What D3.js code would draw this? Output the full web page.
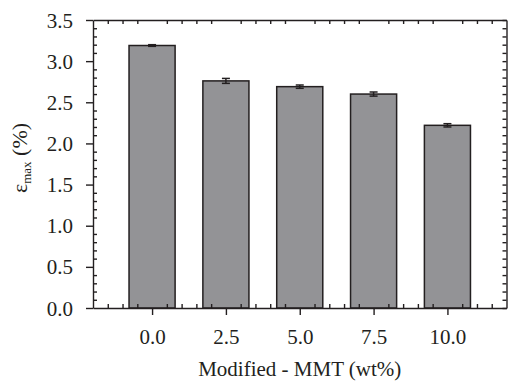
<!DOCTYPE html>
<html>
<head>
<meta charset="utf-8">
<script src="https://cdn.jsdelivr.net/npm/d3@7"></script>
<style>
  body { margin: 0; background: #fff; }
  .axis path, .axis line { stroke: #231f20; stroke-width: 1.4px; }
</style>
</head>
<body>
<div id="chart"></div>
<script>
// values
const loadings = [0.0, 2.5, 5.0, 7.5, 10.0];
const strainMax = [3.19, 2.76, 2.69, 2.60, 2.22];
const strainErr = [0.01, 0.03, 0.02, 0.025, 0.02];
const yTickValues = [0.0, 0.5, 1.0, 1.5, 2.0, 2.5, 3.0, 3.5];
const xLabel = "Modified - MMT (wt%)";

const serif = "'Liberation Serif', 'DejaVu Serif', serif";
const outerWidth = 508, outerHeight = 382;
const margin = { left: 93, top: 20, right: 1.5, bottom: 74 };
const innerWidth = outerWidth - margin.left - margin.right;
const innerHeight = outerHeight - margin.top - margin.bottom;
const barWidth = 1.56; // in wt% units

const data = loadings.map((x, i) => ({ x: x, y: strainMax[i], err: strainErr[i] }));

const svg = d3.select("#chart").append("svg")
  .attr("width", outerWidth)
  .attr("height", outerHeight);

const g = svg.append("g")
  .attr("transform", "translate(" + margin.left + "," + margin.top + ")");

const scaleX = d3.scaleLinear().domain([-2, 12]).range([0, innerWidth]);
const scaleY = d3.scaleLinear().domain([0, 3.5]).range([innerHeight, 0]);

// minor tick positions (every 0.1 on y, every 0.5 on x)
const yMinor = d3.range(1, 35).map(d => d / 10).filter(d => Math.round(d * 10) % 5 !== 0);
const yAll = d3.range(0, 36).map(d => d / 10);
const xMinor = d3.range(-3, 24).map(d => d / 2).filter(d => loadings.indexOf(d) < 0);

// bars
g.selectAll("rect.bar").data(data).enter().append("rect")
  .attr("class", "bar")
  .attr("x", d => scaleX(d.x - barWidth / 2))
  .attr("y", d => scaleY(d.y))
  .attr("width", d => scaleX(d.x + barWidth / 2) - scaleX(d.x - barWidth / 2))
  .attr("height", d => scaleY(0) - scaleY(d.y))
  .attr("fill", "#939396")
  .attr("stroke", "#231f20")
  .attr("stroke-width", 1.5);

// error bars
const err = g.selectAll("g.err").data(data).enter().append("g")
  .attr("class", "err")
  .attr("stroke", "#231f20")
  .attr("stroke-width", 1.5);
err.append("line")
  .attr("x1", d => scaleX(d.x)).attr("x2", d => scaleX(d.x))
  .attr("y1", d => scaleY(d.y - d.err)).attr("y2", d => scaleY(d.y + d.err));
err.append("line")
  .attr("x1", d => scaleX(d.x) - 4).attr("x2", d => scaleX(d.x) + 4)
  .attr("y1", d => scaleY(d.y + d.err)).attr("y2", d => scaleY(d.y + d.err));
err.append("line")
  .attr("x1", d => scaleX(d.x) - 4).attr("x2", d => scaleX(d.x) + 4)
  .attr("y1", d => scaleY(d.y - d.err)).attr("y2", d => scaleY(d.y - d.err));

// left axis: major outward with labels, minor inward
const yAxisG = g.append("g").attr("class", "axis")
  .call(d3.axisLeft(scaleY).tickValues(yTickValues).tickSize(7).tickSizeOuter(0).tickPadding(13)
    .tickFormat(d3.format(".1f")));
yAxisG.selectAll("text").attr("dy", "0.34em");
g.append("g").attr("class", "axis")
  .call(d3.axisLeft(scaleY).tickValues(yMinor).tickSize(-4).tickSizeOuter(0).tickFormat(""))
  .select(".domain").remove();

// right axis: all ticks inward
g.append("g").attr("class", "axis")
  .attr("transform", "translate(" + innerWidth + ",0)")
  .call(d3.axisRight(scaleY).tickValues(yAll).tickSize(-4).tickSizeOuter(0).tickFormat(""));

// bottom axis: majors outward, minors inward
const xAxisG = g.append("g").attr("class", "axis")
  .attr("transform", "translate(0," + innerHeight + ")")
  .call(d3.axisBottom(scaleX).tickValues(loadings).tickSize(7).tickSizeOuter(0).tickPadding(14)
    .tickFormat(d3.format(".1f")));
g.append("g").attr("class", "axis")
  .attr("transform", "translate(0," + innerHeight + ")")
  .call(d3.axisBottom(scaleX).tickValues(xMinor).tickSize(-4).tickSizeOuter(0).tickFormat(""))
  .select(".domain").remove();

// top axis: minors inward only
g.append("g").attr("class", "axis")
  .call(d3.axisTop(scaleX).tickValues(xMinor).tickSize(-4).tickSizeOuter(0).tickFormat(""));

// axis titles
svg.append("text")
  .attr("x", margin.left + scaleX(5))
  .attr("y", 376)
  .attr("text-anchor", "middle")
  .text(xLabel);

const yTitle = svg.append("text")
  .attr("transform", "translate(27,158) rotate(-90)")
  .attr("text-anchor", "middle")
  .style("font-size", "22px");
yTitle.append("tspan").text("\u03b5");
yTitle.append("tspan").style("font-size", "13px").attr("dy", 4).text("max");
yTitle.append("tspan").attr("dy", -4).text(" (%)");

// same serif face on every text
svg.selectAll("text")
  .style("font-family", serif)
  .style("fill", "#231f20");
svg.selectAll(".axis text, svg > text:not([transform])").style("font-size", "21px");
</script>
</body>
</html>
